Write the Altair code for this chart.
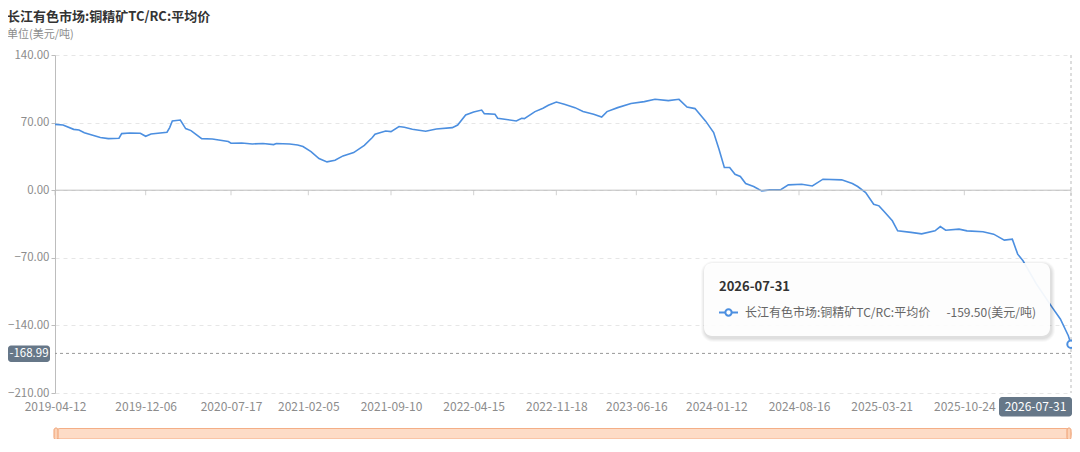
import altair as alt
import pandas as pd

# ---------------- data ----------------
dates = [
    "2019-04-12", "2019-05-03", "2019-05-31", "2019-06-14", "2019-06-28", "2019-08-09",
    "2019-08-30", "2019-09-27", "2019-10-04", "2019-10-25", "2019-11-22", "2019-12-06",
    "2019-12-20", "2020-01-31", "2020-02-07", "2020-02-14", "2020-03-06", "2020-03-13",
    "2020-03-20", "2020-04-03", "2020-05-01", "2020-05-29", "2020-07-10", "2020-07-17",
    "2020-08-14", "2020-09-11", "2020-10-09", "2020-11-06", "2020-11-13", "2020-12-18",
    "2021-01-08", "2021-01-22", "2021-02-12", "2021-03-05", "2021-03-26", "2021-04-16",
    "2021-05-07", "2021-06-04", "2021-07-02", "2021-07-23", "2021-07-30", "2021-08-27",
    "2021-09-10", "2021-10-01", "2021-10-15", "2021-11-05", "2021-12-10", "2022-01-07",
    "2022-02-18", "2022-03-04", "2022-03-25", "2022-04-15", "2022-05-06", "2022-05-13",
    "2022-06-10", "2022-06-17", "2022-08-05", "2022-08-19", "2022-08-26", "2022-09-23",
    "2022-10-14", "2022-10-28", "2022-11-18", "2022-12-09", "2023-01-06", "2023-01-27",
    "2023-02-24", "2023-03-17", "2023-03-31", "2023-04-28", "2023-06-02", "2023-07-07",
    "2023-08-04", "2023-09-08", "2023-10-06", "2023-10-27", "2023-11-17", "2023-12-15",
    "2024-01-05", "2024-01-19", "2024-02-02", "2024-02-16", "2024-03-01", "2024-03-15",
    "2024-03-29", "2024-04-19", "2024-05-10", "2024-05-31", "2024-06-28", "2024-07-19",
    "2024-08-23", "2024-09-20", "2024-10-18", "2024-12-06", "2025-01-03", "2025-01-17",
    "2025-02-07", "2025-02-28", "2025-03-14", "2025-03-28", "2025-04-18", "2025-05-02",
    "2025-06-06", "2025-07-04", "2025-08-08", "2025-08-22", "2025-09-05", "2025-10-10",
    "2025-10-31", "2025-12-12", "2026-01-09", "2026-02-06", "2026-02-27", "2026-03-13",
    "2026-03-27", "2026-05-01", "2026-06-12", "2026-07-03", "2026-07-24", "2026-07-31",
]
values = [
    68.2, 67.5, 63.0, 62.4, 59.6, 54.5,
    53.4, 53.8, 58.6, 59.3, 59.0, 55.8,
    58.2, 60.0, 64.8, 71.7, 72.7, 68.2,
    63.8, 61.7, 53.4, 53.0, 50.4, 48.6,
    48.9, 47.9, 48.3, 47.2, 48.3, 47.9,
    46.8, 45.2, 40.0, 32.8, 29.3, 31.0,
    35.5, 39.0, 46.5, 54.5, 57.9, 61.3,
    60.7, 65.9, 65.1, 63.1, 61.0, 63.4,
    64.8, 67.5, 77.9, 81.0, 83.0, 79.3,
    78.6, 74.5, 71.7, 74.5, 74.1, 81.4,
    84.8, 87.9, 91.3, 88.9, 85.5, 81.4,
    78.6, 75.8, 81.4, 85.5, 89.7, 91.7,
    94.1, 92.8, 94.1, 86.1, 84.5, 71.5,
    59.7, 42.4, 23.5, 23.5, 16.5, 14.2,
    6.9, 3.8, -0.7, 0.3, 0.3, 5.5,
    6.2, 4.4, 11.4, 10.7, 6.9, 3.8,
    -2.4, -14.5, -16.2, -22.4, -31.7, -42.1,
    -43.7, -45.2, -42.1, -37.6, -41.4, -40.3,
    -42.1, -43.1, -45.5, -51.7, -50.7, -66.2,
    -73.1, -97.0, -121.6, -133.4, -150.7, -159.5,
]
tick_dates = [
    "2019-04-12", "2019-12-06", "2020-07-17", "2021-02-05", "2021-09-10",
    "2022-04-15", "2022-11-18", "2023-06-16", "2024-01-12", "2024-08-16",
    "2025-03-21", "2025-10-24", "2026-07-31",
]
y_ticks = [-210, -140, -70, 0, 70, 140]
title_text = "长江有色市场:铜精矿TC/RC:平均价"
unit_text = "单位(美元/吨)"
series_name = "长江有色市场:铜精矿TC/RC:平均价"
unit_suffix = "(美元/吨)"
pointer_value = -168.99

# ---------------- styling ----------------
FONT = "Noto Sans CJK SC"
BLUE = "#4C8FE0"
AXIS_GRAY = "#BDBDBD"
LABEL_GRAY = "#8C8C8C"
POINTER_BG = "#667788"

W, H = 1016, 338
PAD_L, PAD_T, PAD_R, PAD_B = 47, 47, 1, 46

df = pd.DataFrame({"date": dates, "value": values})
ticks_df = pd.DataFrame({"date": tick_dates})
last_df = df.tail(1)
one = pd.DataFrame({"k": [0]})


def dt(s):
    y, m, d = map(int, s.split("-"))
    return alt.DateTime(year=y, month=m, date=d, utc=True)


def px(page_x):
    """page pixel -> plot pixel (horizontal) for overlay chrome."""
    return page_x - 8 - PAD_L


def py(page_y):
    return page_y - 8 - PAD_T


x_scale = alt.Scale(type="utc", domain=[dt(tick_dates[0]), dt(tick_dates[-1])], nice=False)
y_scale = alt.Scale(domain=[y_ticks[0], y_ticks[-1]], nice=False, zero=False)

x_axis = alt.Axis(
    values=[dt(s) for s in tick_dates[:-1]], format="%Y-%m-%d",
    labelColor=LABEL_GRAY, labelFontSize=12, labelFont=FONT,
    domain=False, ticks=False, tickSize=0, grid=False, labelPadding=8,
    title=None, labelOverlap=False, labelFlush=False,
)
y_axis = alt.Axis(
    values=y_ticks, format=".2f", labelColor=LABEL_GRAY, labelFontSize=11.5, labelFont=FONT,
    domainColor=AXIS_GRAY, tickColor=AXIS_GRAY, tickSize=4, labelPadding=2,
    grid=True, gridColor="#E6E6E6", gridDash=[4, 4], title=None,
)

line = alt.Chart(df).mark_line(color=BLUE, strokeWidth=1.6).encode(
    x=alt.X("date:T", scale=x_scale, axis=x_axis),
    y=alt.Y("value:Q", scale=y_scale, axis=y_axis),
)

zero_rule = alt.Chart(one).mark_rule(color=AXIS_GRAY, strokeWidth=1).encode(y=alt.datum(0))

x_ticks = alt.Chart(ticks_df).mark_tick(
    orient="vertical", size=5, thickness=1, color=AXIS_GRAY, yOffset=2.5
).encode(x="date:T", y=alt.datum(0))

v_cross = alt.Chart(last_df).mark_rule(color="#BBBBBB", strokeDash=[3, 3], strokeWidth=1).encode(
    x="date:T"
)
h_cross = alt.Chart(one).mark_rule(color="#999999", strokeDash=[3, 3], strokeWidth=1).encode(
    y=alt.datum(pointer_value)
)

end_point = alt.Chart(last_df).mark_point(
    shape="circle", filled=True, fill="white", stroke=BLUE, strokeWidth=2, size=55, opacity=1
).encode(x="date:T", y="value:Q")

# tooltip box with a soft shadow (page coords 704..1050 x 263..336)
TX0, TX1, TY0, TY1 = px(704), px(1050), py(263), py(336)
shadows = []
for i, op in enumerate([0.035, 0.035, 0.03, 0.025]):
    g = i + 1
    shadows.append(
        alt.Chart(one).mark_rect(fill="black", opacity=op, cornerRadius=8 + g).encode(
            x=alt.value(TX0 - g + 1), x2=alt.value(TX1 + g + 1),
            y=alt.value(TY0 - g + 2), y2=alt.value(TY1 + g + 2),
        )
    )
tip_box = alt.Chart(one).mark_rect(fill="white", opacity=0.93, cornerRadius=8).encode(
    x=alt.value(TX0), x2=alt.value(TX1), y=alt.value(TY0), y2=alt.value(TY1)
)
tip_date = alt.Chart(one).mark_text(
    text=dates[-1], font=FONT, fontSize=13, fontWeight="bold", color="#333333",
    align="left", baseline="middle",
).encode(x=alt.value(px(719)), y=alt.value(py(286.5)))
tip_leg_line = alt.Chart(one).mark_rule(color=BLUE, strokeWidth=2).encode(
    x=alt.value(px(719)), x2=alt.value(px(738)), y=alt.value(py(312.5))
)
tip_leg_dot = alt.Chart(one).mark_point(
    shape="circle", filled=True, fill="white", stroke=BLUE, strokeWidth=2, size=40, opacity=1
).encode(x=alt.value(px(728.5)), y=alt.value(py(312.5)))
tip_name = alt.Chart(one).mark_text(
    text=series_name, font=FONT, fontSize=12, color="#666666", align="left", baseline="middle"
).encode(x=alt.value(px(745)), y=alt.value(py(312.5)))
tip_value = alt.Chart(one).mark_text(
    text=f"{values[-1]:.2f}{unit_suffix}", font=FONT, fontSize=12, color="#666666",
    align="right", baseline="middle",
).encode(x=alt.value(px(1036)), y=alt.value(py(312.5)))

# axis pointer labels
y_ptr_box = alt.Chart(one).mark_rect(fill=POINTER_BG, cornerRadius=3).encode(
    x=alt.value(px(8)), x2=alt.value(px(50)), y=alt.value(py(345.5)), y2=alt.value(py(362))
)
y_ptr_text = alt.Chart(one).mark_text(
    text=f"{pointer_value:.2f}", font=FONT, fontSize=11.5, color="white", align="center",
    baseline="middle",
).encode(x=alt.value(px(29)), y=alt.value(py(354)))
x_ptr_box = alt.Chart(one).mark_rect(fill=POINTER_BG, cornerRadius=3).encode(
    x=alt.value(px(999)), x2=alt.value(px(1072)), y=alt.value(py(397)), y2=alt.value(py(416.5))
)
x_ptr_text = alt.Chart(one).mark_text(
    text=tick_dates[-1], font=FONT, fontSize=12, color="white", align="center", baseline="middle"
).encode(x=alt.value(px(1035.5)), y=alt.value(py(407)))

# titles
title_mark = alt.Chart(one).mark_text(
    text=title_text, font=FONT, fontSize=13, fontWeight="bold", color="#333333",
    align="left", baseline="middle",
).encode(x=alt.value(px(7)), y=alt.value(py(17)))
unit_mark = alt.Chart(one).mark_text(
    text=unit_text, font=FONT, fontSize=11, color="#8C8C8C", align="left", baseline="middle"
).encode(x=alt.value(px(7)), y=alt.value(py(35)))

# data-zoom slider
slider = alt.Chart(one).mark_rect(
    fill="#FDDCC7", stroke="#F4AE86", strokeWidth=1, cornerRadius=5
).encode(x=alt.value(px(55)), x2=alt.value(px(1071)), y=alt.value(py(428.5)), y2=alt.value(py(439)))
handle_l = alt.Chart(one).mark_rect(
    fill="#FCD2B6", stroke="#EE9E70", strokeWidth=1, cornerRadius=2
).encode(x=alt.value(px(54)), x2=alt.value(px(58)), y=alt.value(py(428)), y2=alt.value(py(439.5)))
handle_r = alt.Chart(one).mark_rect(
    fill="#FCD2B6", stroke="#EE9E70", strokeWidth=1, cornerRadius=2
).encode(x=alt.value(px(1067)), x2=alt.value(px(1071)), y=alt.value(py(428)), y2=alt.value(py(439.5)))

chart = alt.layer(
    line, zero_rule, x_ticks, v_cross, h_cross, end_point,
    *shadows, tip_box, tip_date, tip_leg_line, tip_leg_dot, tip_name, tip_value,
    y_ptr_box, y_ptr_text, x_ptr_box, x_ptr_text,
    title_mark, unit_mark, slider, handle_l, handle_r,
).properties(
    width=W, height=H,
    autosize=alt.AutoSizeParams(type="none"),
    padding={"left": PAD_L, "top": PAD_T, "right": PAD_R, "bottom": PAD_B},
    background="white",
).configure_view(stroke=None)

chart.save("out.html", embed_options={"renderer": "svg", "actions": False})
